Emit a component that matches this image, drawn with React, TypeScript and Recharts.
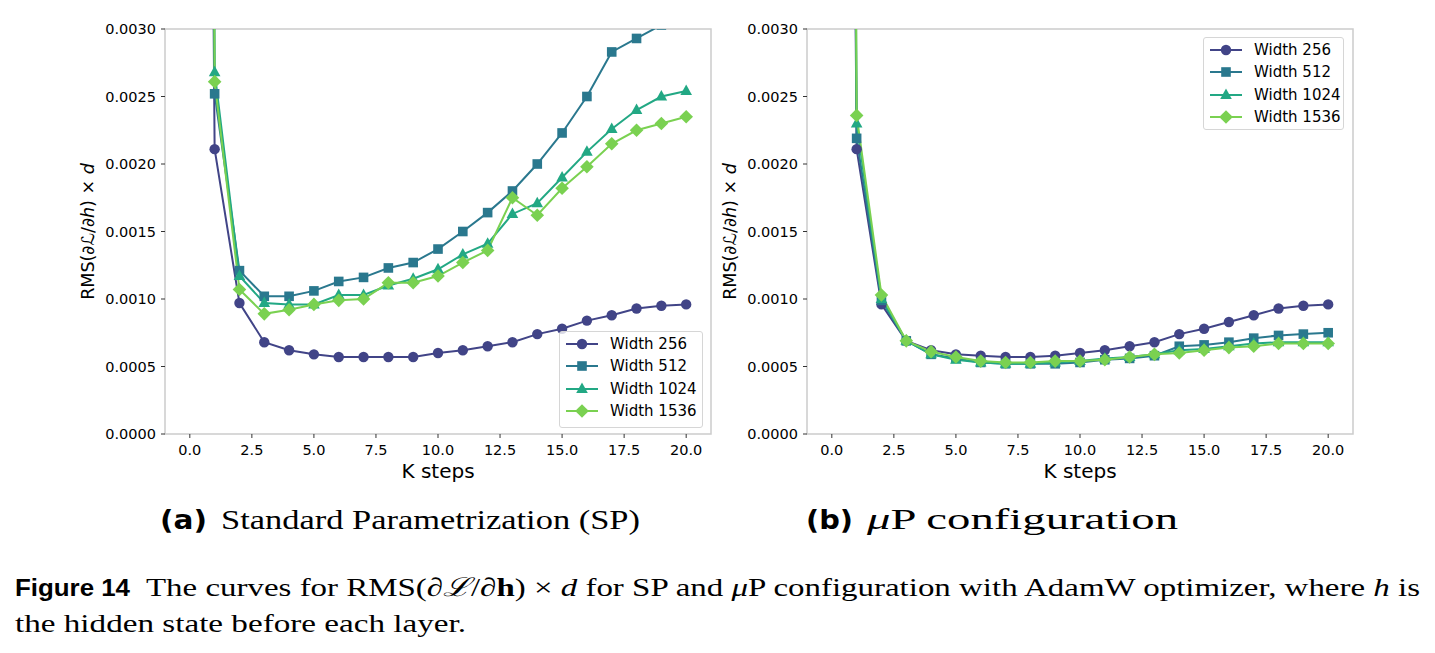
import React from "react";
import { LineChart, Line, XAxis, YAxis, ReferenceArea, Label } from "recharts";

const kSteps = [0, 1, 2, 3, 4, 5, 6, 7, 8, 9, 10, 11, 12, 13, 14, 15, 16, 17, 18, 19, 20];

// (a) standard parametrization
const sp256 = [0.025, 0.00211, 0.00097, 0.00068, 0.00062, 0.00059, 0.00057, 0.00057, 0.00057, 0.00057, 0.0006, 0.00062, 0.00065, 0.00068, 0.00074, 0.00078, 0.00084, 0.00088, 0.00093, 0.00095, 0.00096];
const sp512 = [0.03, 0.00252, 0.00121, 0.00102, 0.00102, 0.00106, 0.00113, 0.00116, 0.00123, 0.00127, 0.00137, 0.0015, 0.00164, 0.0018, 0.002, 0.00223, 0.0025, 0.00283, 0.00293, 0.00303, 0.00318];
const sp1024 = [0.035, 0.00268, 0.00117, 0.00097, 0.00096, 0.00096, 0.00103, 0.00103, 0.0011, 0.00115, 0.00122, 0.00133, 0.00141, 0.00163, 0.00171, 0.0019, 0.00209, 0.00226, 0.0024, 0.0025, 0.00254];
const sp1536 = [0.04, 0.00261, 0.00107, 0.00089, 0.00092, 0.00096, 0.00099, 0.001, 0.00112, 0.00112, 0.00117, 0.00127, 0.00136, 0.00175, 0.00162, 0.00182, 0.00198, 0.00215, 0.00225, 0.0023, 0.00235];

// (b) muP
const mup256 = [0.025, 0.00211, 0.00096, 0.00069, 0.00062, 0.00059, 0.00058, 0.00057, 0.00057, 0.00058, 0.0006, 0.00062, 0.00065, 0.00068, 0.00074, 0.00078, 0.00083, 0.00088, 0.00093, 0.00095, 0.00096];
const mup512 = [0.03, 0.00219, 0.00099, 0.00069, 0.00059, 0.00056, 0.00053, 0.00052, 0.00052, 0.00052, 0.00053, 0.00055, 0.00056, 0.00058, 0.00065, 0.00066, 0.00068, 0.00071, 0.00073, 0.00074, 0.00075];
const mup1024 = [0.035, 0.0023, 0.001, 0.00069, 0.00059, 0.00055, 0.00053, 0.00052, 0.00052, 0.00053, 0.00054, 0.00056, 0.00057, 0.00059, 0.00062, 0.00063, 0.00065, 0.00067, 0.00068, 0.00068, 0.00068];
const mup1536 = [0.04, 0.00236, 0.00103, 0.00069, 0.00061, 0.00057, 0.00054, 0.00053, 0.00053, 0.00054, 0.00054, 0.00055, 0.00057, 0.00059, 0.0006, 0.00062, 0.00064, 0.00065, 0.00067, 0.00067, 0.00067];

const seriesNames = ["Width 256", "Width 512", "Width 1024", "Width 1536"];
const colors = ["#414487", "#2a788e", "#22a884", "#7ad151"];
const shapes = ["circle", "square", "triangle", "diamond"];

const xTicks = [0, 2.5, 5, 7.5, 10, 12.5, 15, 17.5, 20];
const yTicks = [0, 0.0005, 0.001, 0.0015, 0.002, 0.0025, 0.003];

function buildRows(cols: number[][]) {
  return kSteps.map((k, i) => ({ k, s0: cols[0][i], s1: cols[1][i], s2: cols[2][i], s3: cols[3][i] }));
}

const spRows = buildRows([sp256, sp512, sp1024, sp1536]);
const mupRows = buildRows([mup256, mup512, mup1024, mup1536]);

const tickFont = { fill: "#000", fontSize: 14.5, fontFamily: "DejaVu Sans" };

function MarkerShape({ shape, x, y, color }: { shape: string; x: number; y: number; color: string }) {
  if (shape === "circle") return <circle cx={x} cy={y} r={5.2} fill={color} />;
  if (shape === "square") return <rect x={x - 4.8} y={y - 4.8} width={9.6} height={9.6} fill={color} />;
  if (shape === "triangle")
    return <polygon points={`${x},${y - 6.5} ${x + 5.8},${y + 4} ${x - 5.8},${y + 4}`} fill={color} />;
  return <polygon points={`${x},${y - 6.8} ${x + 6.8},${y} ${x},${y + 6.8} ${x - 6.8},${y}`} fill={color} />;
}

function YLabel(props: any) {
  const vb = props.viewBox || { x: 70, y: 29, width: 95, height: 405 };
  const x = vb.x + 18;
  const y = vb.y + vb.height / 2;
  return (
    <text
      x={x}
      y={y}
      transform={`rotate(-90 ${x} ${y})`}
      textAnchor="middle"
      dominantBaseline="central"
      fontSize={17.5}
      fontFamily="DejaVu Sans"
      fill="#000"
    >
      RMS(∂<tspan fontStyle="italic">ℒ</tspan>/∂<tspan fontStyle="italic">h</tspan>) × <tspan fontStyle="italic">d</tspan>
    </text>
  );
}

function LegendBox({ box }: { box: { left: number; top: number; width: number; height: number } }) {
  return (
    <div
      style={{
        position: "absolute",
        left: box.left,
        top: box.top,
        width: box.width,
        height: box.height,
        border: "1px solid #d6d6d6",
        borderRadius: 3,
        background: "rgba(255,255,255,0.8)",
        boxSizing: "border-box",
        paddingTop: 1,
      }}
    >
      {seriesNames.map((name, i) => (
        <div key={name} style={{ display: "flex", alignItems: "center", height: 22.3 }}>
          <svg width={44} height={16} style={{ marginLeft: 4 }}>
            <line x1={2} x2={34} y1={8} y2={8} stroke={colors[i]} strokeWidth={2} />
            <MarkerShape shape={shapes[i]} x={18} y={8} color={colors[i]} />
          </svg>
          <span style={{ fontSize: 15, color: "#000", marginLeft: 2, fontFamily: "DejaVu Sans" }}>{name}</span>
        </div>
      ))}
    </div>
  );
}

function Panel({ rows, left, legend }: { rows: any[]; left: number; legend: any }) {
  return (
    <div style={{ position: "absolute", left, top: 0, width: 720, height: 500 }}>
      <LineChart width={720} height={500} data={rows} margin={{ top: 29, right: 9, bottom: 36, left: 70 }}>
        <XAxis
          dataKey="k"
          type="number"
          domain={[-1, 21]}
          ticks={xTicks}
          allowDataOverflow
          tickFormatter={(v: number) => v.toFixed(1)}
          tick={tickFont}
          tickLine={{ stroke: "#333" }}
          tickSize={4}
          tickMargin={7}
          axisLine={false}
          height={30}
          label={{ value: "K steps", position: "bottom", offset: 0, fill: "#000", fontSize: 20, fontFamily: "DejaVu Sans" }}
        />
        <YAxis
          type="number"
          domain={[0, 0.003]}
          ticks={yTicks}
          allowDataOverflow
          width={95}
          tickFormatter={(v: number) => v.toFixed(4)}
          tick={tickFont}
          tickLine={{ stroke: "#333" }}
          tickSize={4}
          tickMargin={5}
          axisLine={false}
          label={<Label content={YLabel} />}
        />
        <ReferenceArea x1={-1} x2={21} y1={0} y2={0.003} fill="none" stroke="#cccccc" strokeWidth={1.5} />
        {seriesNames.map((name, i) => (
          <Line
            key={name}
            dataKey={`s${i}`}
            name={name}
            stroke={colors[i]}
            strokeWidth={2}
            isAnimationActive={false}
            dot={(p: any) => (
              <MarkerShape key={`${name}-${p.index}`} shape={shapes[i]} x={p.cx} y={p.cy} color={colors[i]} />
            )}
            activeDot={false}
          />
        ))}
      </LineChart>
      <LegendBox box={legend} />
    </div>
  );
}

export default function App() {
  const serif = "Liberation Serif";
  const sansBold = "DejaVu Sans";
  return (
    <div style={{ position: "relative", width: 1435, height: 653, margin: -8, background: "#fff", fontFamily: "DejaVu Sans" }}>
      <Panel rows={spRows} left={0} legend={{ left: 559, top: 331, width: 144, height: 97 }} />
      <Panel rows={mupRows} left={642} legend={{ left: 561, top: 37, width: 141, height: 93 }} />
      <svg width={1435} height={653} style={{ position: "absolute", left: 0, top: 0, pointerEvents: "none" }}>
        <text x={160} y={529} fontFamily={sansBold} fontWeight="bold" fontSize={27} textLength={47} lengthAdjust="spacingAndGlyphs">
          (a)
        </text>
        <text x={221} y={529} fontFamily={serif} fontSize={28} textLength={419} lengthAdjust="spacingAndGlyphs">
          Standard Parametrization (SP)
        </text>
        <text x={806} y={529} fontFamily={sansBold} fontWeight="bold" fontSize={27} textLength={47} lengthAdjust="spacingAndGlyphs">
          (b)
        </text>
        <text x={867} y={529} fontFamily={serif} fontSize={29} textLength={311} lengthAdjust="spacingAndGlyphs">
          <tspan fontStyle="italic">μ</tspan>P configuration
        </text>
        <text x={15} y={596} fontFamily="Liberation Sans" fontWeight="bold" fontSize={24} textLength={115} lengthAdjust="spacingAndGlyphs">
          Figure 14
        </text>
        <text x={146} y={596} fontFamily={serif} fontSize={26} textLength={1274} lengthAdjust="spacingAndGlyphs">
          The curves for RMS(∂<tspan fontStyle="italic">ℒ</tspan>/∂<tspan fontWeight="bold">h</tspan>) × <tspan fontStyle="italic">d</tspan> for SP and <tspan fontStyle="italic">μ</tspan>P configuration with AdamW optimizer, where <tspan fontStyle="italic">h</tspan> is
        </text>
        <text x={15} y={632} fontFamily={serif} fontSize={26} textLength={451} lengthAdjust="spacingAndGlyphs">
          the hidden state before each layer.
        </text>
      </svg>
    </div>
  );
}
